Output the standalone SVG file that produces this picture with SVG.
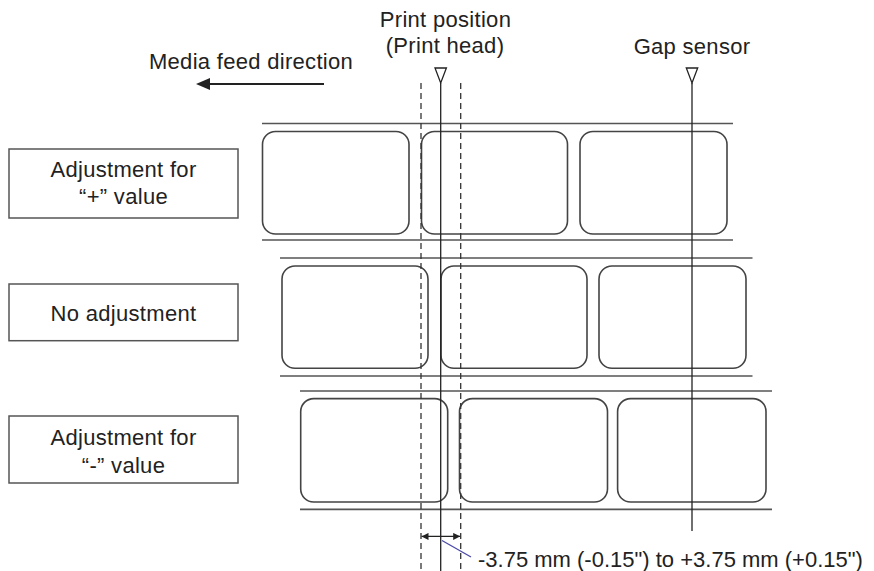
<svg xmlns="http://www.w3.org/2000/svg" width="874" height="571" viewBox="0 0 874 571">
<style>
text{font-family:"Liberation Sans",Arial,sans-serif;font-size:22px;letter-spacing:0.3px;fill:#222}
.c{text-anchor:middle}
.box{fill:#fff;stroke:#555;stroke-width:1.5}
.lab{fill:#fff;stroke:#444;stroke-width:1.6}
.tape{stroke:#555;stroke-width:1.6}
.solid{stroke:#222;stroke-width:1.3;fill:none}
.dash{stroke:#333;stroke-width:1.3;stroke-dasharray:6 4;fill:none}
.tri{fill:#fff;stroke:#222;stroke-width:1.3}
</style>
<defs>
<marker id="ah" viewBox="0 0 10 10" refX="10" refY="5" markerWidth="7" markerHeight="7" markerUnits="userSpaceOnUse" orient="auto-start-reverse">
<path d="M0,0 L10,5 L0,10 z" fill="#222"/>
</marker>
</defs>
<rect width="874" height="571" fill="#fff"/>

<g id="header">
<text class="c" x="445.5" y="27">Print position</text>
<text class="c" x="445" y="53">(Print head)</text>
<text class="c" x="692" y="54">Gap sensor</text>
<text class="c" x="251" y="69">Media feed direction</text>
</g>

<g id="feed-arrow">
<line x1="324" y1="84" x2="208" y2="84" stroke="#222" stroke-width="2"/>
<path d="M196,84 L210,78 L210,90 z" fill="#222"/>
</g>

<g id="row1">
<line class="tape" x1="262" y1="123.5" x2="733" y2="123.5"/>
<rect class="lab" x="262.5" y="131.5" width="146.5" height="102.5" rx="13"/>
<rect class="lab" x="421.5" y="131.5" width="146" height="102.5" rx="13"/>
<rect class="lab" x="580" y="131.5" width="147" height="102.5" rx="13"/>
<line class="tape" x1="262" y1="240" x2="733" y2="240"/>
</g>

<g id="row2">
<line class="tape" x1="280" y1="258" x2="752.5" y2="258"/>
<rect class="lab" x="282" y="266" width="146" height="102.3" rx="13"/>
<rect class="lab" x="441" y="266" width="146" height="102.3" rx="13"/>
<rect class="lab" x="599" y="266" width="147" height="102.3" rx="13"/>
<line class="tape" x1="280" y1="376" x2="752.5" y2="376"/>
</g>

<g id="row3">
<line class="tape" x1="300" y1="391" x2="772" y2="391"/>
<rect class="lab" x="300.7" y="398.6" width="147" height="103.4" rx="13"/>
<rect class="lab" x="459.5" y="398.6" width="148" height="103.4" rx="13"/>
<rect class="lab" x="617.6" y="398.6" width="148.4" height="103.4" rx="13"/>
<line class="tape" x1="300" y1="509.4" x2="772" y2="509.4"/>
</g>

<g id="box-plus">
<rect class="box" x="9" y="149" width="229" height="69"/>
<text class="c" x="123.5" y="177">Adjustment for</text>
<text class="c" x="123.5" y="204">“+” value</text>
</g>
<g id="box-none">
<rect class="box" x="9" y="284" width="229" height="56.7"/>
<text class="c" x="123.5" y="320.5">No adjustment</text>
</g>
<g id="box-minus">
<rect class="box" x="9" y="416" width="229" height="67"/>
<text class="c" x="123.5" y="445">Adjustment for</text>
<text class="c" x="123.5" y="472.5">“-” value</text>
</g>

<g id="connectors">
<line class="dash" x1="421" y1="83" x2="421" y2="571"/>
<line class="dash" x1="460.7" y1="83" x2="460.7" y2="571"/>
<line class="solid" x1="440.7" y1="83" x2="440.7" y2="571"/>
<line class="solid" x1="692" y1="83" x2="692" y2="531"/>
<path class="tri" d="M435,68 L446.4,68 L440.7,83 z"/>
<path class="tri" d="M686.3,68 L697.7,68 L692,83 z"/>
<line x1="421.5" y1="536.4" x2="460.2" y2="536.4" stroke="#222" stroke-width="1.3" marker-start="url(#ah)" marker-end="url(#ah)"/>
<line x1="442" y1="540.5" x2="471" y2="557" stroke="#4a4aa8" stroke-width="1.3"/>
</g>

<g id="range-label">
<text x="478" y="567" style="letter-spacing:0">-3.75 mm (-0.15") to +3.75 mm (+0.15")</text>
</g>
</svg>
